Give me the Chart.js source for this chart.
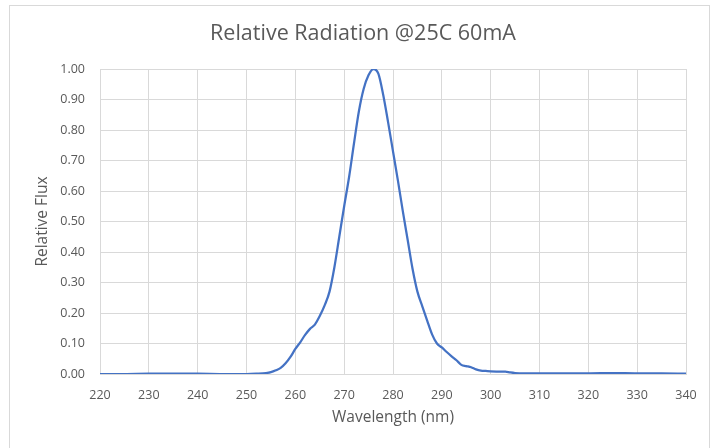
<!DOCTYPE html>
<html lang="en">
<head>
    <meta charset="UTF-8">
    <title>Relative Radiation</title>
    <script src="https://cdn.jsdelivr.net/npm/chart.js"></script>
    <style>
        body { margin: 0; background: #fff; }
        .frame {
            position: absolute;
            left: 9px;
            top: 5px;
            width: 699px;
            height: 460px;
            border: 1px solid #d9d9d9;
        }
        canvas { position: absolute; left: 0; top: 0; }
    </style>
</head>
<body>
    <div class="frame"></div>
    <canvas id="fluxChart" width="718" height="448"></canvas>

    <script>
        const chartTitle = 'Relative Radiation @25C 60mA';
        const xTitle = 'Wavelength (nm)';
        const yTitle = 'Relative Flux';

        const xMin = 220, xMax = 340, xStep = 10;
        const yMin = 0, yMax = 1, yStep = 0.1;

        const wavelength = [220, 225, 230, 235, 240, 245, 250, 252, 254, 255, 256, 257, 258, 259,
            260, 261, 262, 263, 264, 265, 266, 267, 268, 269,
            270, 271, 272, 273, 274, 275, 276, 277, 278, 279,
            280, 281, 282, 283, 284, 285, 286, 287, 288, 289,
            290, 291, 292, 293, 294, 295, 296, 297, 298, 299,
            300, 302, 303, 304, 305, 307, 310, 315, 320, 325, 330, 335, 340];
        const flux = [0, 0, 0.001, 0.001, 0.001, 0, 0, 0.001, 0.003, 0.006, 0.012, 0.02, 0.035, 0.056,
            0.082, 0.104, 0.128, 0.148, 0.162, 0.19, 0.225, 0.27, 0.35, 0.45,
            0.55, 0.645, 0.755, 0.86, 0.935, 0.98, 1.0, 0.985, 0.915, 0.825,
            0.73, 0.635, 0.535, 0.44, 0.345, 0.27, 0.222, 0.175, 0.13, 0.1,
            0.087, 0.072, 0.058, 0.045, 0.03, 0.026, 0.022, 0.015, 0.011, 0.01,
            0.009, 0.008, 0.008, 0.005, 0.003, 0.002, 0.002, 0.002, 0.002, 0.003, 0.002, 0.002, 0.001];

        const textColor = '#595959';
        const gridColor = '#d9d9d9';
        const fontFamily = '"Open Sans", "Noto Sans", sans-serif';

        // title drawn by hand so it sits centred on the whole frame, like Excel
        const titlePlugin = {
            id: 'frameTitle',
            afterDraw(chart) {
                const ctx = chart.ctx;
                ctx.save();
                ctx.font = '21.5px ' + fontFamily;
                ctx.fillStyle = textColor;
                ctx.textAlign = 'center';
                ctx.textBaseline = 'middle';
                ctx.fillText(chartTitle, 363, 34);
                ctx.restore();
            }
        };

        const ctx = document.getElementById('fluxChart').getContext('2d');
        new Chart(ctx, {
            type: 'line',
            data: {
                datasets: [{
                    label: yTitle,
                    data: wavelength.map((w, i) => ({ x: w, y: flux[i] })),
                    borderColor: '#4472C4',
                    borderWidth: 2.25,
                    pointRadius: 0,
                    fill: false,
                    cubicInterpolationMode: 'monotone'
                }]
            },
            options: {
                responsive: false,
                animation: false,
                layout: { padding: { left: 0, right: 32, top: 69, bottom: 0 } },
                plugins: {
                    legend: { display: false },
                    tooltip: { enabled: false },
                    title: { display: false }
                },
                scales: {
                    x: {
                        type: 'linear',
                        min: xMin,
                        max: xMax,
                        afterFit(scale) { scale.height = 74; },
                        ticks: {
                            stepSize: xStep,
                            color: textColor,
                            padding: 14,
                            font: { family: fontFamily, size: 12.5 }
                        },
                        grid: { color: gridColor, drawTicks: false },
                        border: { color: gridColor },
                        title: {
                            display: true,
                            text: xTitle,
                            color: textColor,
                            padding: { top: 0, bottom: 21 },
                            font: { family: fontFamily, size: 15.5 }
                        }
                    },
                    y: {
                        min: yMin,
                        max: yMax,
                        afterFit(scale) { scale.width = 100; },
                        ticks: {
                            stepSize: yStep,
                            color: textColor,
                            padding: 15,
                            font: { family: fontFamily, size: 12.5 },
                            callback: v => v.toFixed(2)
                        },
                        grid: { color: gridColor, drawTicks: false },
                        border: { color: gridColor },
                        title: {
                            display: true,
                            text: yTitle,
                            color: textColor,
                            padding: { top: 33, bottom: 0 },
                            font: { family: fontFamily, size: 15.5 }
                        }
                    }
                }
            },
            plugins: [titlePlugin]
        });
    </script>
</body>
</html>
